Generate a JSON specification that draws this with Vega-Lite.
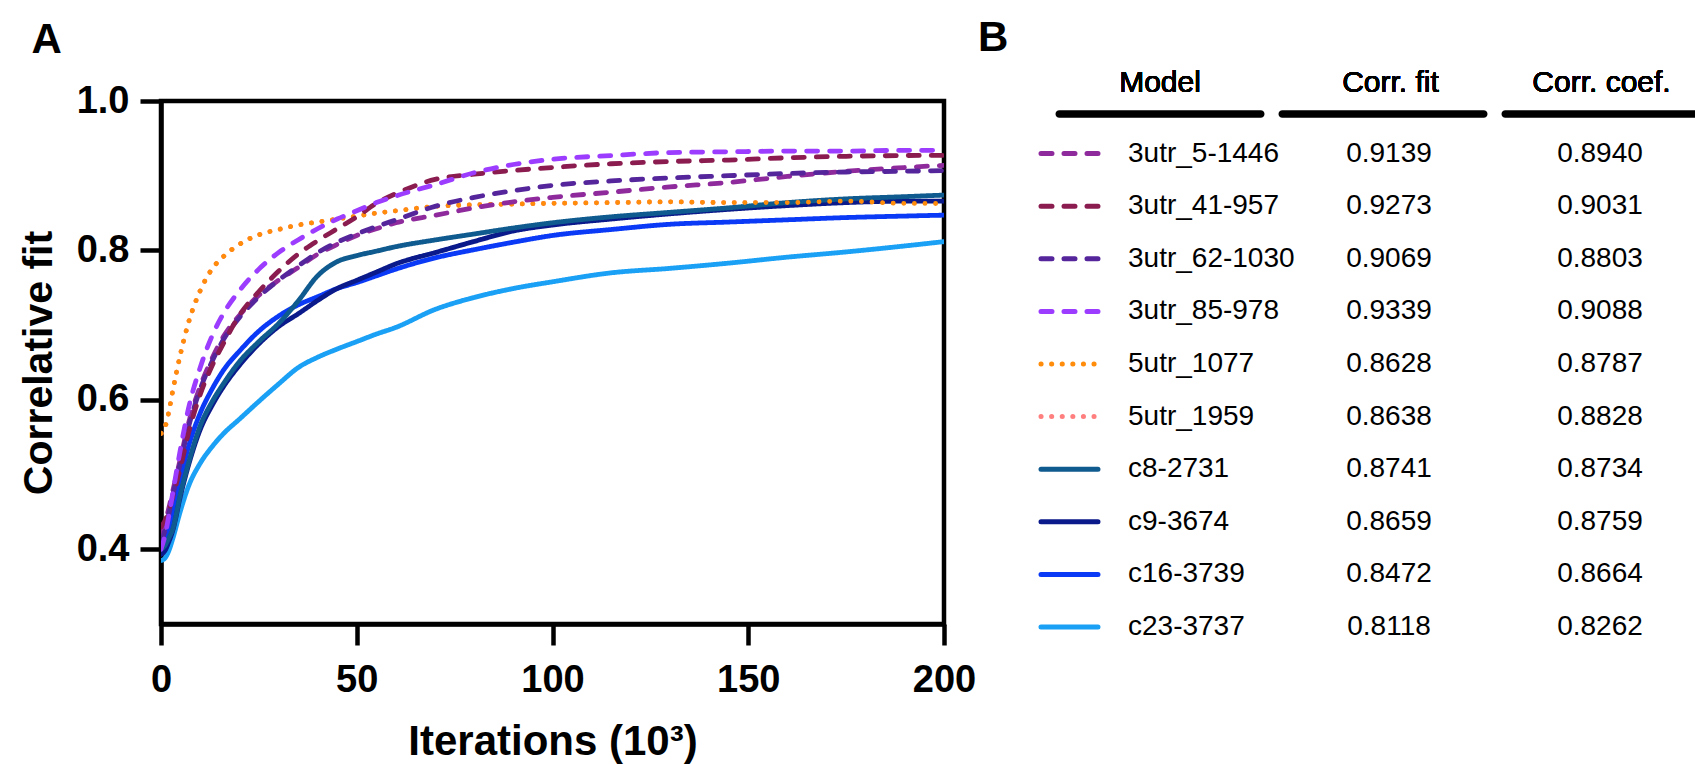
{
  "$schema": "https://vega.github.io/schema/vega-lite/v6.json",
  "background": "white",
  "padding": {"left": 15, "top": 16, "right": 0, "bottom": 0},
  "spacing": -7,
  "config": {
    "font": "Liberation Sans",
    "view": {"stroke": null},
    "axis": {"grid": false}
  },
  "datasets": {
    "table": [
      {"model": "3utr_5-1446", "fit": 0.9139, "coef": 0.8940},
      {"model": "3utr_41-957", "fit": 0.9273, "coef": 0.9031},
      {"model": "3utr_62-1030", "fit": 0.9069, "coef": 0.8803},
      {"model": "3utr_85-978", "fit": 0.9339, "coef": 0.9088},
      {"model": "5utr_1077", "fit": 0.8628, "coef": 0.8787},
      {"model": "5utr_1959", "fit": 0.8638, "coef": 0.8828},
      {"model": "c8-2731", "fit": 0.8741, "coef": 0.8734},
      {"model": "c9-3674", "fit": 0.8659, "coef": 0.8759},
      {"model": "c16-3739", "fit": 0.8472, "coef": 0.8664},
      {"model": "c23-3737", "fit": 0.8118, "coef": 0.8262}
    ],
    "curves": [
      {"model":"5utr_1959","iter":0,"value":0.555},{"model":"5utr_1959","iter":1,"value":0.563},{"model":"5utr_1959","iter":2,"value":0.584},{"model":"5utr_1959","iter":3,"value":0.612},{"model":"5utr_1959","iter":5,"value":0.662},{"model":"5utr_1959","iter":7,"value":0.703},{"model":"5utr_1959","iter":10,"value":0.746},{"model":"5utr_1959","iter":13,"value":0.775},{"model":"5utr_1959","iter":16,"value":0.792},{"model":"5utr_1959","iter":20,"value":0.808},{"model":"5utr_1959","iter":25,"value":0.821},{"model":"5utr_1959","iter":30,"value":0.828},{"model":"5utr_1959","iter":35,"value":0.834},{"model":"5utr_1959","iter":40,"value":0.838},{"model":"5utr_1959","iter":45,"value":0.842},{"model":"5utr_1959","iter":50,"value":0.846},{"model":"5utr_1959","iter":55,"value":0.850},{"model":"5utr_1959","iter":60,"value":0.853},{"model":"5utr_1959","iter":70,"value":0.859},{"model":"5utr_1959","iter":80,"value":0.861},{"model":"5utr_1959","iter":90,"value":0.862},{"model":"5utr_1959","iter":100,"value":0.863},{"model":"5utr_1959","iter":115,"value":0.864},{"model":"5utr_1959","iter":130,"value":0.865},{"model":"5utr_1959","iter":145,"value":0.864},{"model":"5utr_1959","iter":160,"value":0.864},{"model":"5utr_1959","iter":175,"value":0.866},{"model":"5utr_1959","iter":190,"value":0.864},{"model":"5utr_1959","iter":200,"value":0.8638},
      {"model":"c23-3737","iter":0,"value":0.385},{"model":"c23-3737","iter":1,"value":0.388},{"model":"c23-3737","iter":2,"value":0.398},{"model":"c23-3737","iter":3,"value":0.414},{"model":"c23-3737","iter":5,"value":0.452},{"model":"c23-3737","iter":7,"value":0.484},{"model":"c23-3737","iter":10,"value":0.515},{"model":"c23-3737","iter":13,"value":0.537},{"model":"c23-3737","iter":16,"value":0.555},{"model":"c23-3737","iter":20,"value":0.574},{"model":"c23-3737","iter":25,"value":0.598},{"model":"c23-3737","iter":30,"value":0.621},{"model":"c23-3737","iter":35,"value":0.643},{"model":"c23-3737","iter":40,"value":0.657},{"model":"c23-3737","iter":45,"value":0.668},{"model":"c23-3737","iter":50,"value":0.678},{"model":"c23-3737","iter":55,"value":0.688},{"model":"c23-3737","iter":60,"value":0.697},{"model":"c23-3737","iter":70,"value":0.721},{"model":"c23-3737","iter":80,"value":0.737},{"model":"c23-3737","iter":90,"value":0.749},{"model":"c23-3737","iter":100,"value":0.758},{"model":"c23-3737","iter":115,"value":0.770},{"model":"c23-3737","iter":130,"value":0.776},{"model":"c23-3737","iter":145,"value":0.783},{"model":"c23-3737","iter":160,"value":0.791},{"model":"c23-3737","iter":175,"value":0.798},{"model":"c23-3737","iter":190,"value":0.806},{"model":"c23-3737","iter":200,"value":0.8118},
      {"model":"c16-3739","iter":0,"value":0.400},{"model":"c16-3739","iter":1,"value":0.410},{"model":"c16-3739","iter":2,"value":0.428},{"model":"c16-3739","iter":3,"value":0.448},{"model":"c16-3739","iter":5,"value":0.495},{"model":"c16-3739","iter":7,"value":0.537},{"model":"c16-3739","iter":10,"value":0.582},{"model":"c16-3739","iter":13,"value":0.614},{"model":"c16-3739","iter":16,"value":0.640},{"model":"c16-3739","iter":20,"value":0.665},{"model":"c16-3739","iter":25,"value":0.692},{"model":"c16-3739","iter":30,"value":0.712},{"model":"c16-3739","iter":35,"value":0.727},{"model":"c16-3739","iter":40,"value":0.738},{"model":"c16-3739","iter":45,"value":0.749},{"model":"c16-3739","iter":50,"value":0.757},{"model":"c16-3739","iter":55,"value":0.766},{"model":"c16-3739","iter":60,"value":0.775},{"model":"c16-3739","iter":70,"value":0.790},{"model":"c16-3739","iter":80,"value":0.801},{"model":"c16-3739","iter":90,"value":0.811},{"model":"c16-3739","iter":100,"value":0.820},{"model":"c16-3739","iter":115,"value":0.828},{"model":"c16-3739","iter":130,"value":0.835},{"model":"c16-3739","iter":145,"value":0.838},{"model":"c16-3739","iter":160,"value":0.841},{"model":"c16-3739","iter":175,"value":0.844},{"model":"c16-3739","iter":190,"value":0.846},{"model":"c16-3739","iter":200,"value":0.8472},
      {"model":"c9-3674","iter":0,"value":0.393},{"model":"c9-3674","iter":1,"value":0.398},{"model":"c9-3674","iter":2,"value":0.410},{"model":"c9-3674","iter":3,"value":0.425},{"model":"c9-3674","iter":5,"value":0.472},{"model":"c9-3674","iter":7,"value":0.512},{"model":"c9-3674","iter":10,"value":0.560},{"model":"c9-3674","iter":13,"value":0.592},{"model":"c9-3674","iter":16,"value":0.618},{"model":"c9-3674","iter":20,"value":0.646},{"model":"c9-3674","iter":25,"value":0.675},{"model":"c9-3674","iter":30,"value":0.698},{"model":"c9-3674","iter":35,"value":0.715},{"model":"c9-3674","iter":40,"value":0.733},{"model":"c9-3674","iter":45,"value":0.749},{"model":"c9-3674","iter":50,"value":0.760},{"model":"c9-3674","iter":55,"value":0.771},{"model":"c9-3674","iter":60,"value":0.782},{"model":"c9-3674","iter":70,"value":0.797},{"model":"c9-3674","iter":80,"value":0.812},{"model":"c9-3674","iter":90,"value":0.826},{"model":"c9-3674","iter":100,"value":0.834},{"model":"c9-3674","iter":115,"value":0.842},{"model":"c9-3674","iter":130,"value":0.849},{"model":"c9-3674","iter":145,"value":0.855},{"model":"c9-3674","iter":160,"value":0.860},{"model":"c9-3674","iter":175,"value":0.864},{"model":"c9-3674","iter":190,"value":0.866},{"model":"c9-3674","iter":200,"value":0.8659},
      {"model":"c8-2731","iter":0,"value":0.400},{"model":"c8-2731","iter":1,"value":0.405},{"model":"c8-2731","iter":2,"value":0.415},{"model":"c8-2731","iter":3,"value":0.427},{"model":"c8-2731","iter":5,"value":0.475},{"model":"c8-2731","iter":7,"value":0.515},{"model":"c8-2731","iter":10,"value":0.565},{"model":"c8-2731","iter":13,"value":0.597},{"model":"c8-2731","iter":16,"value":0.622},{"model":"c8-2731","iter":20,"value":0.651},{"model":"c8-2731","iter":25,"value":0.678},{"model":"c8-2731","iter":30,"value":0.702},{"model":"c8-2731","iter":35,"value":0.732},{"model":"c8-2731","iter":40,"value":0.766},{"model":"c8-2731","iter":45,"value":0.785},{"model":"c8-2731","iter":50,"value":0.793},{"model":"c8-2731","iter":55,"value":0.799},{"model":"c8-2731","iter":60,"value":0.805},{"model":"c8-2731","iter":70,"value":0.814},{"model":"c8-2731","iter":80,"value":0.822},{"model":"c8-2731","iter":90,"value":0.830},{"model":"c8-2731","iter":100,"value":0.837},{"model":"c8-2731","iter":115,"value":0.845},{"model":"c8-2731","iter":130,"value":0.851},{"model":"c8-2731","iter":145,"value":0.857},{"model":"c8-2731","iter":160,"value":0.864},{"model":"c8-2731","iter":175,"value":0.869},{"model":"c8-2731","iter":190,"value":0.872},{"model":"c8-2731","iter":200,"value":0.8741},
      {"model":"5utr_1077","iter":0,"value":0.555},{"model":"5utr_1077","iter":1,"value":0.563},{"model":"5utr_1077","iter":2,"value":0.584},{"model":"5utr_1077","iter":3,"value":0.612},{"model":"5utr_1077","iter":5,"value":0.662},{"model":"5utr_1077","iter":7,"value":0.703},{"model":"5utr_1077","iter":10,"value":0.746},{"model":"5utr_1077","iter":13,"value":0.775},{"model":"5utr_1077","iter":16,"value":0.792},{"model":"5utr_1077","iter":20,"value":0.808},{"model":"5utr_1077","iter":25,"value":0.821},{"model":"5utr_1077","iter":30,"value":0.828},{"model":"5utr_1077","iter":35,"value":0.834},{"model":"5utr_1077","iter":40,"value":0.838},{"model":"5utr_1077","iter":45,"value":0.842},{"model":"5utr_1077","iter":50,"value":0.846},{"model":"5utr_1077","iter":55,"value":0.850},{"model":"5utr_1077","iter":60,"value":0.853},{"model":"5utr_1077","iter":70,"value":0.859},{"model":"5utr_1077","iter":80,"value":0.861},{"model":"5utr_1077","iter":90,"value":0.862},{"model":"5utr_1077","iter":100,"value":0.863},{"model":"5utr_1077","iter":115,"value":0.864},{"model":"5utr_1077","iter":130,"value":0.865},{"model":"5utr_1077","iter":145,"value":0.864},{"model":"5utr_1077","iter":160,"value":0.864},{"model":"5utr_1077","iter":175,"value":0.866},{"model":"5utr_1077","iter":190,"value":0.863},{"model":"5utr_1077","iter":200,"value":0.8628},
      {"model":"3utr_5-1446","iter":0,"value":0.420},{"model":"3utr_5-1446","iter":1,"value":0.435},{"model":"3utr_5-1446","iter":2,"value":0.455},{"model":"3utr_5-1446","iter":3,"value":0.478},{"model":"3utr_5-1446","iter":5,"value":0.522},{"model":"3utr_5-1446","iter":7,"value":0.568},{"model":"3utr_5-1446","iter":10,"value":0.618},{"model":"3utr_5-1446","iter":13,"value":0.655},{"model":"3utr_5-1446","iter":16,"value":0.685},{"model":"3utr_5-1446","iter":20,"value":0.713},{"model":"3utr_5-1446","iter":25,"value":0.740},{"model":"3utr_5-1446","iter":30,"value":0.760},{"model":"3utr_5-1446","iter":35,"value":0.777},{"model":"3utr_5-1446","iter":40,"value":0.795},{"model":"3utr_5-1446","iter":45,"value":0.808},{"model":"3utr_5-1446","iter":50,"value":0.820},{"model":"3utr_5-1446","iter":55,"value":0.829},{"model":"3utr_5-1446","iter":60,"value":0.837},{"model":"3utr_5-1446","iter":70,"value":0.847},{"model":"3utr_5-1446","iter":80,"value":0.857},{"model":"3utr_5-1446","iter":90,"value":0.865},{"model":"3utr_5-1446","iter":100,"value":0.871},{"model":"3utr_5-1446","iter":115,"value":0.878},{"model":"3utr_5-1446","iter":130,"value":0.885},{"model":"3utr_5-1446","iter":145,"value":0.891},{"model":"3utr_5-1446","iter":160,"value":0.899},{"model":"3utr_5-1446","iter":175,"value":0.906},{"model":"3utr_5-1446","iter":190,"value":0.911},{"model":"3utr_5-1446","iter":200,"value":0.9139},
      {"model":"3utr_62-1030","iter":0,"value":0.410},{"model":"3utr_62-1030","iter":1,"value":0.425},{"model":"3utr_62-1030","iter":2,"value":0.447},{"model":"3utr_62-1030","iter":3,"value":0.472},{"model":"3utr_62-1030","iter":5,"value":0.517},{"model":"3utr_62-1030","iter":7,"value":0.563},{"model":"3utr_62-1030","iter":10,"value":0.614},{"model":"3utr_62-1030","iter":13,"value":0.651},{"model":"3utr_62-1030","iter":16,"value":0.681},{"model":"3utr_62-1030","iter":20,"value":0.710},{"model":"3utr_62-1030","iter":25,"value":0.738},{"model":"3utr_62-1030","iter":30,"value":0.760},{"model":"3utr_62-1030","iter":35,"value":0.779},{"model":"3utr_62-1030","iter":40,"value":0.797},{"model":"3utr_62-1030","iter":45,"value":0.811},{"model":"3utr_62-1030","iter":50,"value":0.822},{"model":"3utr_62-1030","iter":55,"value":0.832},{"model":"3utr_62-1030","iter":60,"value":0.841},{"model":"3utr_62-1030","iter":70,"value":0.859},{"model":"3utr_62-1030","iter":80,"value":0.871},{"model":"3utr_62-1030","iter":90,"value":0.880},{"model":"3utr_62-1030","iter":100,"value":0.887},{"model":"3utr_62-1030","iter":115,"value":0.893},{"model":"3utr_62-1030","iter":130,"value":0.897},{"model":"3utr_62-1030","iter":145,"value":0.900},{"model":"3utr_62-1030","iter":160,"value":0.903},{"model":"3utr_62-1030","iter":175,"value":0.905},{"model":"3utr_62-1030","iter":190,"value":0.906},{"model":"3utr_62-1030","iter":200,"value":0.9069},
      {"model":"3utr_41-957","iter":0,"value":0.430},{"model":"3utr_41-957","iter":1,"value":0.438},{"model":"3utr_41-957","iter":2,"value":0.452},{"model":"3utr_41-957","iter":3,"value":0.470},{"model":"3utr_41-957","iter":5,"value":0.510},{"model":"3utr_41-957","iter":7,"value":0.555},{"model":"3utr_41-957","iter":10,"value":0.607},{"model":"3utr_41-957","iter":13,"value":0.645},{"model":"3utr_41-957","iter":16,"value":0.676},{"model":"3utr_41-957","iter":20,"value":0.713},{"model":"3utr_41-957","iter":25,"value":0.745},{"model":"3utr_41-957","iter":30,"value":0.772},{"model":"3utr_41-957","iter":35,"value":0.795},{"model":"3utr_41-957","iter":40,"value":0.813},{"model":"3utr_41-957","iter":45,"value":0.829},{"model":"3utr_41-957","iter":50,"value":0.845},{"model":"3utr_41-957","iter":55,"value":0.863},{"model":"3utr_41-957","iter":60,"value":0.876},{"model":"3utr_41-957","iter":70,"value":0.895},{"model":"3utr_41-957","iter":80,"value":0.902},{"model":"3utr_41-957","iter":90,"value":0.907},{"model":"3utr_41-957","iter":100,"value":0.911},{"model":"3utr_41-957","iter":115,"value":0.916},{"model":"3utr_41-957","iter":130,"value":0.919},{"model":"3utr_41-957","iter":145,"value":0.921},{"model":"3utr_41-957","iter":160,"value":0.924},{"model":"3utr_41-957","iter":175,"value":0.926},{"model":"3utr_41-957","iter":190,"value":0.927},{"model":"3utr_41-957","iter":200,"value":0.9273},
      {"model":"3utr_85-978","iter":0,"value":0.400},{"model":"3utr_85-978","iter":1,"value":0.418},{"model":"3utr_85-978","iter":2,"value":0.445},{"model":"3utr_85-978","iter":3,"value":0.475},{"model":"3utr_85-978","iter":5,"value":0.535},{"model":"3utr_85-978","iter":7,"value":0.588},{"model":"3utr_85-978","iter":10,"value":0.643},{"model":"3utr_85-978","iter":13,"value":0.685},{"model":"3utr_85-978","iter":16,"value":0.716},{"model":"3utr_85-978","iter":20,"value":0.746},{"model":"3utr_85-978","iter":25,"value":0.775},{"model":"3utr_85-978","iter":30,"value":0.797},{"model":"3utr_85-978","iter":35,"value":0.814},{"model":"3utr_85-978","iter":40,"value":0.829},{"model":"3utr_85-978","iter":45,"value":0.842},{"model":"3utr_85-978","iter":50,"value":0.853},{"model":"3utr_85-978","iter":55,"value":0.864},{"model":"3utr_85-978","iter":60,"value":0.873},{"model":"3utr_85-978","iter":70,"value":0.888},{"model":"3utr_85-978","iter":80,"value":0.904},{"model":"3utr_85-978","iter":90,"value":0.915},{"model":"3utr_85-978","iter":100,"value":0.922},{"model":"3utr_85-978","iter":115,"value":0.927},{"model":"3utr_85-978","iter":130,"value":0.931},{"model":"3utr_85-978","iter":145,"value":0.932},{"model":"3utr_85-978","iter":160,"value":0.933},{"model":"3utr_85-978","iter":175,"value":0.933},{"model":"3utr_85-978","iter":190,"value":0.934},{"model":"3utr_85-978","iter":200,"value":0.9339}
    ]
  },
  "hconcat": [
    {
      "width": 783,
      "height": 523,
      "view": {"stroke": "black", "strokeWidth": 4.5},
      "title": {"text": "A", "anchor": "start", "frame": "group", "fontSize": 42, "fontWeight": "bold", "baseline": "alphabetic", "offset": -13, "dx": -129.5, "color": "black"},
      "data": {"name": "curves"},
      "mark": {"type": "line", "strokeWidth": 4.8, "strokeCap": "round", "interpolate": "monotone", "clip": true},
      "encoding": {
        "x": {
          "field": "iter", "type": "quantitative",
          "scale": {"domain": [0, 200], "nice": false, "zero": false},
          "axis": {"title": "Iterations (10³)", "values": [0, 50, 100, 150, 200], "format": "d", "labelFontSize": 38, "labelFontWeight": "bold", "labelColor": "black", "labelPadding": 16, "labelFlush": false, "labelOverlap": false, "tickSize": 21, "tickWidth": 4.5, "tickColor": "black", "domainColor": "black", "domainWidth": 4.5, "titleFontSize": 42, "titleFontWeight": "bold", "titleColor": "black", "titlePadding": 22}
        },
        "y": {
          "field": "value", "type": "quantitative",
          "scale": {"domain": [0.3, 1.0], "nice": false, "zero": false},
          "axis": {"title": "Correlative fit", "values": [0.4, 0.6, 0.8, 1.0], "format": ".1f", "labelFontSize": 38, "labelFontWeight": "bold", "labelColor": "black", "labelPadding": 11, "labelFlush": false, "labelOverlap": false, "tickSize": 21, "tickWidth": 4.5, "tickColor": "black", "domainColor": "black", "domainWidth": 4.5, "titleFontSize": 41, "titleFontWeight": "bold", "titleColor": "black", "titlePadding": 16}
        },
        "color": {
          "field": "model", "type": "nominal", "legend": null,
          "scale": {
            "domain": ["3utr_5-1446", "3utr_41-957", "3utr_62-1030", "3utr_85-978", "5utr_1077", "5utr_1959", "c8-2731", "c9-3674", "c16-3739", "c23-3737"],
            "range": ["#8E2A9C", "#8A1C50", "#55259C", "#9B3CFF", "#FF8C0A", "#FF7F7F", "#0F5A8E", "#0B1A8A", "#0A3AF5", "#1AA0F5"]
          }
        },
        "strokeDash": {
          "field": "model", "type": "nominal", "legend": null,
          "scale": {
            "domain": ["3utr_5-1446", "3utr_41-957", "3utr_62-1030", "3utr_85-978", "5utr_1077", "5utr_1959", "c8-2731", "c9-3674", "c16-3739", "c23-3737"],
            "range": [[11, 12], [11, 12], [11, 12], [11, 12], [0.1, 10.5], [0.1, 10.5], [1, 0], [1, 0], [1, 0], [1, 0]]
          }
        }
      }
    },
    {
      "width": 721,
      "height": 526,
      "view": {"stroke": null},
      "title": {"text": "B", "anchor": "start", "frame": "group", "fontSize": 42, "fontWeight": "bold", "baseline": "alphabetic", "offset": -25, "dx": 0, "color": "black"},
      "data": {"name": "table"},
      "encoding": {
        "y": {
          "field": "model", "type": "nominal", "axis": null,
          "scale": {"type": "point", "domain": ["Header", "3utr_5-1446", "3utr_41-957", "3utr_62-1030", "3utr_85-978", "5utr_1077", "5utr_1959", "c8-2731", "c9-3674", "c16-3739", "c23-3737"], "padding": 0}
        }
      },
      "layer": [
        {
          "data": {"values": [{"col": "Model"}, {"col": "Corr. fit"}, {"col": "Corr. coef."}]},
          "mark": {"type": "tick", "orient": "horizontal", "size": 209, "thickness": 7.7, "cornerRadius": 3.8, "color": "black", "opacity": 1, "yOffset": 13, "clip": true},
          "encoding": {
            "x": {"field": "col", "type": "nominal", "axis": null, "scale": {"type": "point", "domain": ["Model", "Corr. fit", "Corr. coef."], "padding": 0.6166, "align": 0.6618}},
            "y": {"datum": "Header", "type": "nominal"}
          }
        },
        {
          "mark": {"type": "text", "fontSize": 30, "baseline": "alphabetic", "dy": -9, "dx": 0, "color": "black"},
          "encoding": {"x": {"datum": "Model", "type": "nominal"}, "y": {"datum": "Header", "type": "nominal"}, "text": {"datum": "Model"}}
        },
        {
          "mark": {"type": "text", "fontSize": 30, "baseline": "alphabetic", "dy": -9, "dx": 7.5, "color": "black"},
          "encoding": {"x": {"datum": "Corr. fit", "type": "nominal"}, "y": {"datum": "Header", "type": "nominal"}, "text": {"datum": "Corr. fit"}}
        },
        {
          "mark": {"type": "text", "fontSize": 30, "baseline": "alphabetic", "dy": -9, "dx": -4.5, "color": "black"},
          "encoding": {"x": {"datum": "Corr. coef.", "type": "nominal"}, "y": {"datum": "Header", "type": "nominal"}, "text": {"datum": "Corr. coef."}}
        },
        {
          "mark": {"type": "point", "shape": "stroke", "size": 3249, "strokeWidth": 5, "strokeCap": "round", "filled": false, "opacity": 1, "xOffset": -90.5},
          "encoding": {
            "x": {"datum": "Model", "type": "nominal"},
            "y": {"field": "model", "type": "nominal"},
            "color": {"field": "model", "type": "nominal", "legend": null,
              "scale": {
                "domain": ["3utr_5-1446", "3utr_41-957", "3utr_62-1030", "3utr_85-978", "5utr_1077", "5utr_1959", "c8-2731", "c9-3674", "c16-3739", "c23-3737"],
                "range": ["#8E2A9C", "#8A1C50", "#55259C", "#9B3CFF", "#FF8C0A", "#FF7F7F", "#0F5A8E", "#0B1A8A", "#0A3AF5", "#1AA0F5"]
              }
            },
            "strokeDash": {"field": "model", "type": "nominal", "legend": null,
              "scale": {
                "domain": ["3utr_5-1446", "3utr_41-957", "3utr_62-1030", "3utr_85-978", "5utr_1077", "5utr_1959", "c8-2731", "c9-3674", "c16-3739", "c23-3737"],
                "range": [[11, 12], [11, 12], [11, 12], [11, 12], [0.1, 10.5], [0.1, 10.5], [1, 0], [1, 0], [1, 0], [1, 0]]
              }
            }
          }
        },
        {
          "mark": {"type": "text", "fontSize": 28, "align": "left", "baseline": "middle", "dx": -32, "color": "black"},
          "encoding": {"x": {"datum": "Model", "type": "nominal"}, "y": {"field": "model", "type": "nominal"}, "text": {"field": "model"}}
        },
        {
          "mark": {"type": "text", "fontSize": 28, "align": "center", "baseline": "middle", "dx": 6, "color": "black"},
          "encoding": {"x": {"datum": "Corr. fit", "type": "nominal"}, "y": {"field": "model", "type": "nominal"}, "text": {"field": "fit", "format": ".4f"}}
        },
        {
          "mark": {"type": "text", "fontSize": 28, "align": "center", "baseline": "middle", "dx": -6, "color": "black"},
          "encoding": {"x": {"datum": "Corr. coef.", "type": "nominal"}, "y": {"field": "model", "type": "nominal"}, "text": {"field": "coef", "format": ".4f"}}
        }
      ]
    }
  ]
}
